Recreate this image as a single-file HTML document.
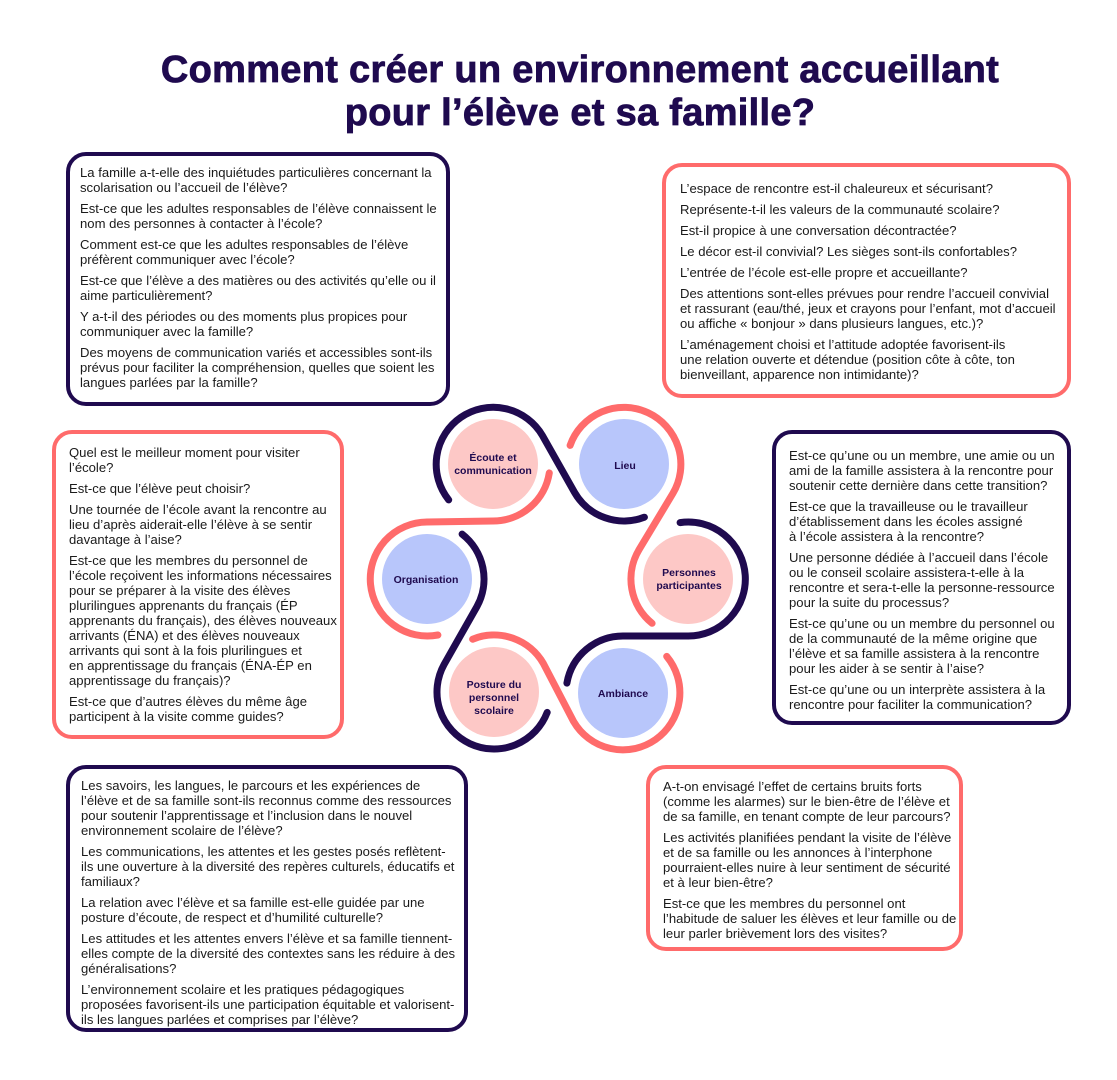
<!DOCTYPE html>
<html><head><meta charset="utf-8"><style>
*{margin:0;padding:0;box-sizing:border-box}
body{width:1117px;height:1080px;background:#fff;position:relative;overflow:hidden;font-family:"Liberation Sans",Arial,sans-serif;color:#1a1a1a}
h1{position:absolute;left:0;width:1160px;top:49px;text-align:center;font-size:38px;line-height:43px;font-weight:bold;color:#1f0a4f;letter-spacing:0.3px;-webkit-text-stroke:0.8px #1f0a4f}
.b{position:absolute;border:4px solid;border-radius:20px;font-size:13.1px;line-height:15px;white-space:nowrap}
.n{border-color:#1f0a4f}.p{border-color:#ff6b6b}
.b p{margin-bottom:6px}
svg{position:absolute;left:0;top:0}
.t{font-family:"Liberation Sans",Arial,sans-serif;font-weight:bold;font-size:10.5px;fill:#1f0a4f;text-anchor:middle}
</style></head><body>
<h1>Comment créer un environnement accueillant<br>pour l’élève et sa famille?</h1>

<div class="b n" style="left:66px;top:152px;width:384px;height:254px;padding:9px 0 0 10px">
<p>La famille a-t-elle des inquiétudes particulières concernant la<br>scolarisation ou l’accueil de l’élève?</p>
<p>Est-ce que les adultes responsables de l’élève connaissent le<br>nom des personnes à contacter à l’école?</p>
<p>Comment est-ce que les adultes responsables de l’élève<br>préfèrent communiquer avec l’école?</p>
<p>Est-ce que l’élève a des matières ou des activités qu’elle ou il<br>aime particulièrement?</p>
<p>Y a-t-il des périodes ou des moments plus propices pour<br>communiquer avec la famille?</p>
<p>Des moyens de communication variés et accessibles sont-ils<br>prévus pour faciliter la compréhension, quelles que soient les<br>langues parlées par la famille?</p>
</div>

<div class="b p" style="left:662px;top:163px;width:409px;height:235px;padding:14px 0 0 14px">
<p>L’espace de rencontre est-il chaleureux et sécurisant?</p>
<p>Représente-t-il les valeurs de la communauté scolaire?</p>
<p>Est-il propice à une conversation décontractée?</p>
<p>Le décor est-il convivial? Les sièges sont-ils confortables?</p>
<p>L’entrée de l’école est-elle propre et accueillante?</p>
<p>Des attentions sont-elles prévues pour rendre l’accueil convivial<br>et rassurant (eau/thé, jeux et crayons pour l’enfant, mot d’accueil<br>ou affiche « bonjour » dans plusieurs langues, etc.)?</p>
<p>L’aménagement choisi et l’attitude adoptée favorisent-ils<br>une relation ouverte et détendue (position côte à côte, ton<br>bienveillant, apparence non intimidante)?</p>
</div>

<div class="b p" style="left:52px;top:430px;width:292px;height:309px;padding:11px 0 0 13px">
<p>Quel est le meilleur moment pour visiter<br>l’école?</p>
<p>Est-ce que l’élève peut choisir?</p>
<p>Une tournée de l’école avant la rencontre au<br>lieu d’après aiderait-elle l’élève à se sentir<br>davantage à l’aise?</p>
<p>Est-ce que les membres du personnel de<br>l’école reçoivent les informations nécessaires<br>pour se préparer à la visite des élèves<br>plurilingues apprenants du français (ÉP<br>apprenants du français), des élèves nouveaux<br>arrivants (ÉNA) et des élèves nouveaux<br>arrivants qui sont à la fois plurilingues et<br>en apprentissage du français (ÉNA-ÉP en<br>apprentissage du français)?</p>
<p>Est-ce que d’autres élèves du même âge<br>participent à la visite comme guides?</p>
</div>

<div class="b n" style="left:772px;top:430px;width:299px;height:295px;padding:14px 0 0 13px">
<p>Est-ce qu’une ou un membre, une amie ou un<br>ami de la famille assistera à la rencontre pour<br>soutenir cette dernière dans cette transition?</p>
<p>Est-ce que la travailleuse ou le travailleur<br>d’établissement dans les écoles assigné<br>à l’école assistera à la rencontre?</p>
<p>Une personne dédiée à l’accueil dans l’école<br>ou le conseil scolaire assistera-t-elle à la<br>rencontre et sera-t-elle la personne-ressource<br>pour la suite du processus?</p>
<p>Est-ce qu’une ou un membre du personnel ou<br>de la communauté de la même origine que<br>l’élève et sa famille assistera à la rencontre<br>pour les aider à se sentir à l’aise?</p>
<p>Est-ce qu’une ou un interprète assistera à la<br>rencontre pour faciliter la communication?</p>
</div>

<div class="b n" style="left:66px;top:765px;width:402px;height:267px;padding:9px 0 0 11px">
<p>Les savoirs, les langues, le parcours et les expériences de<br>l’élève et de sa famille sont-ils reconnus comme des ressources<br>pour soutenir l’apprentissage et l’inclusion dans le nouvel<br>environnement scolaire de l’élève?</p>
<p>Les communications, les attentes et les gestes posés reflètent-<br>ils une ouverture à la diversité des repères culturels, éducatifs et<br>familiaux?</p>
<p>La relation avec l’élève et sa famille est-elle guidée par une<br>posture d’écoute, de respect et d’humilité culturelle?</p>
<p>Les attitudes et les attentes envers l’élève et sa famille tiennent-<br>elles compte de la diversité des contextes sans les réduire à des<br>généralisations?</p>
<p>L’environnement scolaire et les pratiques pédagogiques<br>proposées favorisent-ils une participation équitable et valorisent-<br>ils les langues parlées et comprises par l’élève?</p>
</div>

<div class="b p" style="left:646px;top:765px;width:317px;height:186px;padding:10px 0 0 13px">
<p>A-t-on envisagé l’effet de certains bruits forts<br>(comme les alarmes) sur le bien-être de l’élève et<br>de sa famille, en tenant compte de leur parcours?</p>
<p>Les activités planifiées pendant la visite de l’élève<br>et de sa famille ou les annonces à l’interphone<br>pourraient-elles nuire à leur sentiment de sécurité<br>et à leur bien-être?</p>
<p>Est-ce que les membres du personnel ont<br>l’habitude de saluer les élèves et leur famille ou de<br>leur parler brièvement lors des visites?</p>
</div>

<svg width="1117" height="1080" viewBox="0 0 1117 1080">
<circle cx="493" cy="464" r="45" fill="#fdc8c6"/>
<circle cx="624" cy="464" r="45" fill="#b8c6fb"/>
<circle cx="688" cy="579" r="45" fill="#fdc8c6"/>
<circle cx="623" cy="693" r="45" fill="#b8c6fb"/>
<circle cx="494" cy="692" r="45" fill="#fdc8c6"/>
<circle cx="427" cy="579" r="45" fill="#b8c6fb"/>
<g fill="none" stroke-width="7" stroke-linecap="round">
<path stroke="#1f0a4f" d="M448.7,499.9 A57,57 0 1 1 542.4,435.5 L574.6,492.5 A57,57 0 0 0 644.4,517.2"/>
<path stroke="#ff6b6b" d="M570.1,445.4 A57,57 0 1 1 672.9,493.4 L639.1,549.6 A57,57 0 0 0 652.1,623.3"/>
<path stroke="#1f0a4f" d="M680.1,522.6 A57,57 0 1 1 688,636 L623,636 A57,57 0 0 0 566.9,683.1"/>
<path stroke="#ff6b6b" d="M666.7,656.4 A57,57 0 1 1 573.6,721.5 L543.4,663.5 A57,57 0 0 0 472.6,639.2"/>
<path stroke="#1f0a4f" d="M547.2,712.4 A57,57 0 1 1 444.1,664.4 L476.9,606.6 A57,57 0 0 0 462.1,534.1"/>
<path stroke="#ff6b6b" d="M437.9,635 A57,57 0 1 1 427,522 L493,521 A57,57 0 0 0 549.3,472.9"/>
</g>
<text class="t" x="493" y="461">Écoute et</text>
<text class="t" x="493" y="474">communication</text>
<text class="t" x="625" y="469">Lieu</text>
<text class="t" x="689" y="576">Personnes</text>
<text class="t" x="689" y="589">participantes</text>
<text class="t" x="623" y="697">Ambiance</text>
<text class="t" x="494" y="688">Posture du</text>
<text class="t" x="494" y="701">personnel</text>
<text class="t" x="494" y="714">scolaire</text>
<text class="t" x="426" y="583">Organisation</text>
</svg>
</body></html>
